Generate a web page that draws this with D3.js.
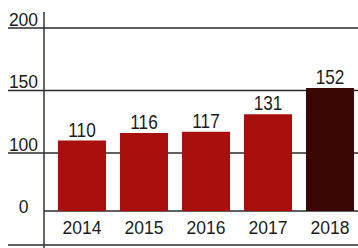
<!DOCTYPE html>
<html>
<head>
<meta charset="utf-8">
<script src="https://cdn.jsdelivr.net/npm/d3@7"></script>
<style>
  html, body { margin: 0; padding: 0; background: #fff; }
  svg { display: block; }
  .tick-label, .year-label { font-family: "Liberation Sans", Arial, sans-serif; font-size: 17.5px; fill: #1c1c1c; }
  .value-label { font-family: "Liberation Sans", Arial, sans-serif; font-size: 21px; fill: #1c1c1c; }
</style>
</head>
<body>
<svg id="chart"></svg>
<script>
const W = 358;
const H = 248;

const years = ['2014', '2015', '2016', '2017', '2018'];
const values = [110, 116, 117, 131, 152];
const tickValues = [0, 100, 150, 200];
const highlightYear = '2018';

const BAR_COLOR = '#a90f0c';
const HIGHLIGHT_COLOR = '#3b0606';
const LINE_COLOR = '#2b2b2b';
const AXIS_COLOR = '#2c3540';

const svg = d3.select('#chart')
    .attr('width', W)
    .attr('height', H);

// broken axis: 0-100 is squeezed, 100-200 is even
const y = d3.scaleLinear()
    .domain([0, 100, 150, 200])
    .range([211, 153, 90.5, 28]);

const x = d3.scaleBand()
    .domain(years)
    .range([49, 363])
    .paddingInner(0.226)
    .paddingOuter(0.145);

const axisX = 44;

// gridlines
svg.append('g').selectAll('line')
    .data(tickValues)
    .enter()
    .append('line')
    .attr('x1', d => d === 0 ? axisX : 8)
    .attr('x2', W)
    .attr('y1', d => y(d))
    .attr('y2', d => y(d))
    .attr('stroke', LINE_COLOR)
    .attr('stroke-width', 1.5);

// bottom rule
svg.append('line')
    .attr('x1', 8).attr('x2', W)
    .attr('y1', 245).attr('y2', 245)
    .attr('stroke', LINE_COLOR)
    .attr('stroke-width', 1.5);

// bars
svg.append('g').selectAll('rect')
    .data(years)
    .enter()
    .append('rect')
    .attr('x', d => x(d))
    .attr('width', x.bandwidth())
    .attr('y', (d, i) => y(values[i]))
    .attr('height', (d, i) => y(0) - y(values[i]))
    .attr('fill', d => d === highlightYear ? HIGHLIGHT_COLOR : BAR_COLOR);

// vertical axis
svg.append('line')
    .attr('x1', axisX).attr('x2', axisX)
    .attr('y1', 12).attr('y2', H)
    .attr('stroke', AXIS_COLOR)
    .attr('stroke-width', 1.5);

// tick labels sit on top of their gridline
svg.append('g').selectAll('text')
    .data(tickValues)
    .enter()
    .append('text')
    .attr('class', 'tick-label')
    .attr('text-anchor', 'middle')
    .attr('x', 23.5)
    .attr('y', d => d === 0 ? y(d) + 2 : y(d) - 2.5)
    .text(d => d);

// value labels, squeezed horizontally like a narrow face
svg.append('g').selectAll('text')
    .data(years)
    .enter()
    .append('text')
    .attr('class', 'value-label')
    .attr('text-anchor', 'middle')
    .attr('transform', (d, i) => `translate(${x(d) + x.bandwidth() / 2}, ${y(values[i]) - 4}) scale(0.82, 1)`)
    .text((d, i) => values[i]);

// year labels
svg.append('g').selectAll('text')
    .data(years)
    .enter()
    .append('text')
    .attr('class', 'year-label')
    .attr('text-anchor', 'middle')
    .attr('x', d => x(d) + x.bandwidth() / 2)
    .attr('y', 234)
    .text(d => d);
</script>
</body>
</html>
